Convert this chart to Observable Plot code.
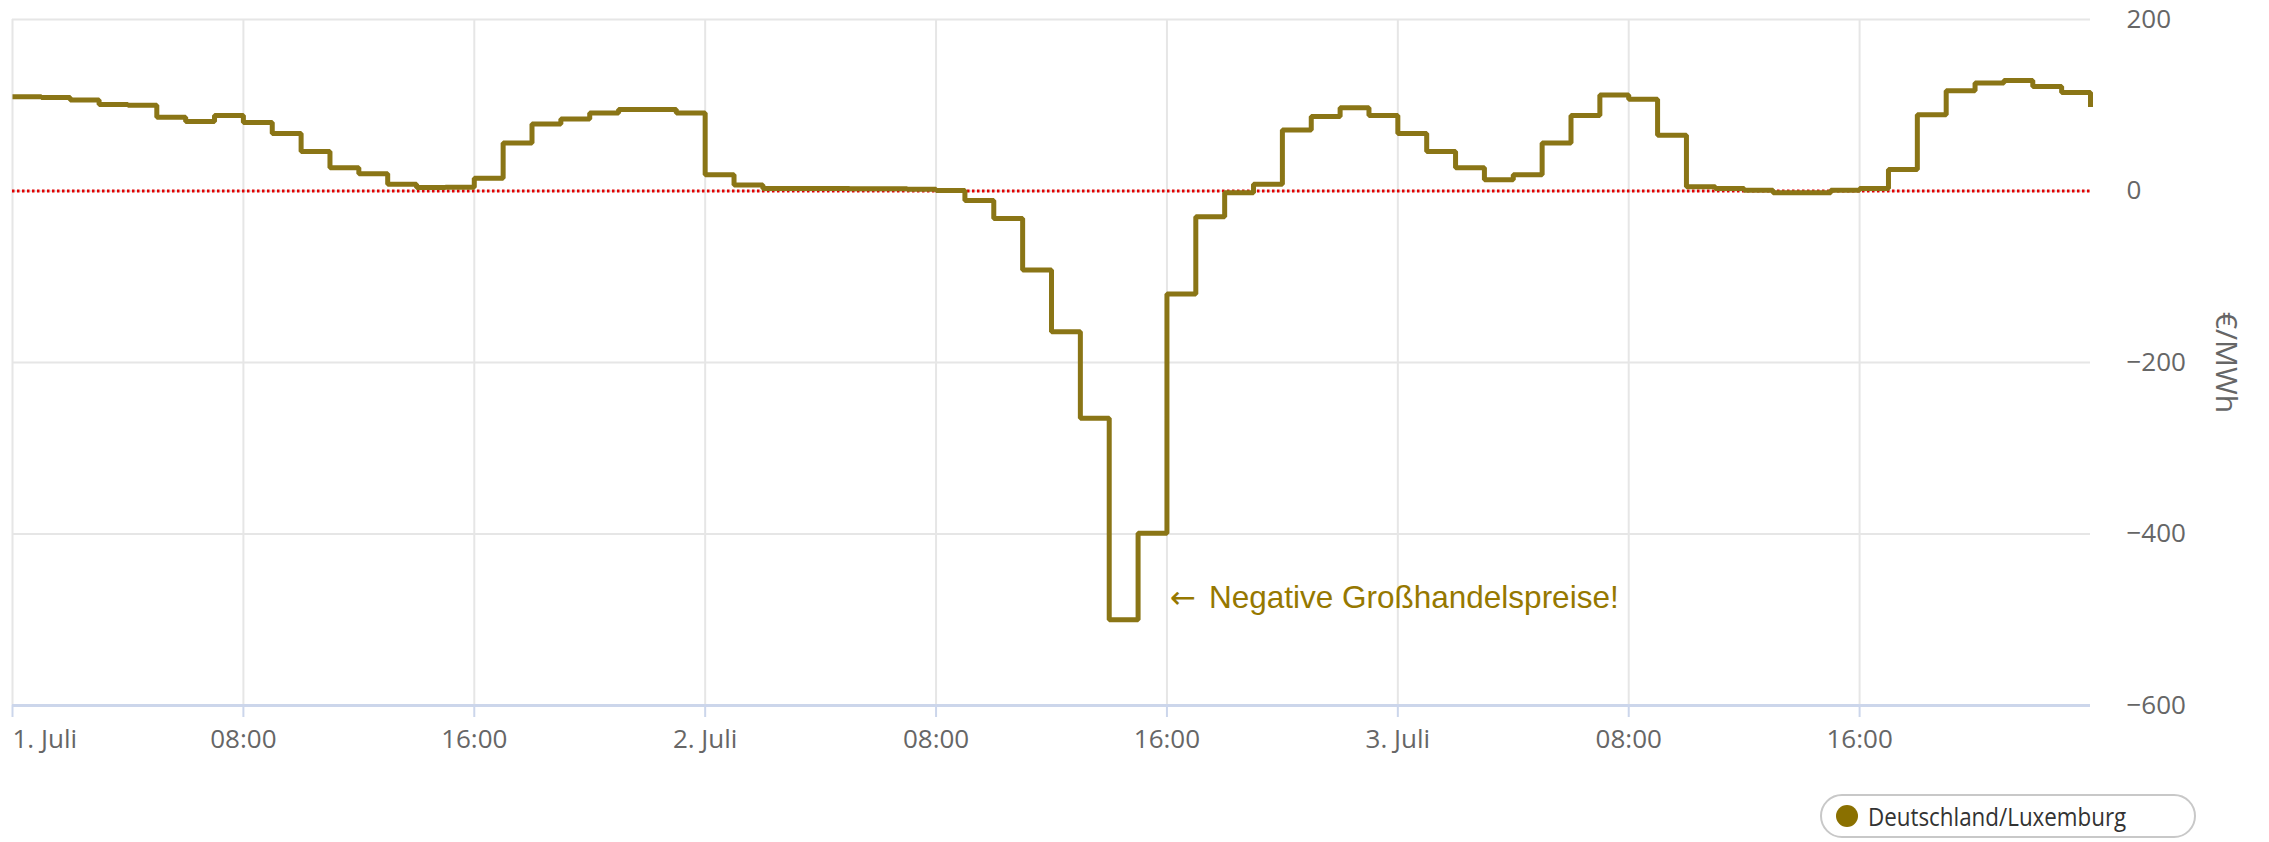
<!DOCTYPE html>
<html>
<head>
<meta charset="utf-8">
<script src="https://cdn.jsdelivr.net/npm/d3@7"></script>
<script src="https://cdn.jsdelivr.net/npm/@observablehq/plot@0.6"></script>
<style>
  html, body { margin: 0; padding: 0; background: #fff; }
  #wrap { position: relative; width: 2269px; height: 842px; overflow: hidden; }
  #legend {
    position: absolute; left: 1820px; top: 794px; width: 376px; height: 44px;
    border: 2px solid #c8c8c8; border-radius: 24px; box-sizing: border-box;
    display: flex; align-items: center; font-family: "Open Sans", sans-serif;
    font-size: 26px; color: #333;
  }
  #legend .dot { width: 22px; height: 22px; border-radius: 50%; background: #8a7000; margin-left: 14px; margin-right: 10px; flex: none; }
  #legend .lbl { display: inline-block; transform: scaleX(0.86); transform-origin: left center; white-space: nowrap; }
</style>
</head>
<body>
<div id="wrap"><div id="chart"></div>
<div id="legend"><span class="dot"></span><span class="lbl">Deutschland/Luxemburg</span></div>
</div>
<script>
// Hourly day-ahead prices, Deutschland/Luxemburg, 1.–3. Juli (€/MWh); last entry = end of period
const startTime = Date.UTC(2023, 6, 1, 0);
const prices = [
  110, 109, 106, 101, 100, 86, 81, 88,
  80, 67, 46, 27, 20, 8, 4, 4.5,
  15, 56, 78, 84, 91, 95, 95, 91,
  19, 7, 3, 3, 2.8, 2.5, 2.5, 2,
  0.5, -11, -32, -92, -164, -265, -500, -399,
  -120, -30, -2, 8, 71, 87, 97, 88,
  67, 46, 27, 13, 19, 56, 88, 112,
  107, 65, 5, 3, 1, -2, -2, 1,
  3, 25, 89, 117, 126, 129, 122, 115,
  98
];
const xTickHours = [0, 8, 16, 24, 32, 40, 48, 56, 64];
const xTickLabels = ["1. Juli", "08:00", "16:00", "2. Juli", "08:00", "16:00", "3. Juli", "08:00", "16:00"];
const yTicks = [200, 0, -200, -400, -600];
const yUnit = "€/MWh";
const seriesName = "Deutschland/Luxemburg";
const annotationArrow = "←";
const annotationText = "Negative Großhandelspreise!";
const annotationHour = 40;
const annotationValue = -475;

const hour = h => new Date(startTime + h * 3600e3);
const data = prices.map((v, i) => ({time: hour(i), price: v}));
const xTicks = xTickHours.map(hour);
const labelOf = new Map(xTicks.map((d, i) => [+d, xTickLabels[i]]));

const lineColor = "#8a7516";
const annColor = "#967800";
const font = "Open Sans, sans-serif";

const chart = Plot.plot({
  width: 2269,
  height: 790,
  marginLeft: 12,
  marginRight: 179,
  marginTop: 19,
  marginBottom: 85,
  style: {fontFamily: font, background: "#fff", overflow: "visible"},
  x: {type: "utc", domain: [hour(0), hour(prices.length - 1)]},
  y: {domain: [-600, 200]},
  marks: [
    Plot.gridY(yTicks.filter(d => d > -600), {stroke: "#e6e6e6", strokeOpacity: 1, strokeWidth: 2}),
    Plot.gridX(xTicks, {stroke: "#e6e6e6", strokeOpacity: 1, strokeWidth: 2}),
    Plot.ruleY([-600], {stroke: "#ccd6eb", strokeWidth: 3}),
    Plot.axisX(xTicks.slice(0, 1), {
      tickSize: 12, tickPadding: 12, stroke: "#ccd6eb", strokeWidth: 2,
      tickFormat: d => labelOf.get(+d), textAnchor: "start", dx: 0,
      fontSize: 26, fill: "#666", fontFamily: font
    }),
    Plot.axisX(xTicks.slice(1), {
      tickSize: 12, tickPadding: 12, stroke: "#ccd6eb", strokeWidth: 2,
      tickFormat: d => labelOf.get(+d),
      fontSize: 26, fill: "#666", fontFamily: font
    }),
    Plot.axisY(yTicks, {
      anchor: "right", tickSize: 0, tickPadding: 36, textAnchor: "start",
      tickFormat: d => String(d).replace("-", "−"),
      fontSize: 26, fill: "#666", fontFamily: font, label: null
    }),
    Plot.text([yUnit], {
      frameAnchor: "right", y: () => -200, dx: 135, rotate: 90, textAnchor: "middle",
      fontSize: 30, fill: "#666", fontFamily: font
    }),
    Plot.ruleY([0], {stroke: "#e00000", strokeWidth: 3, strokeDasharray: "2.5,2.5"}),
    Plot.line(data, {x: "time", y: "price", curve: "step-after", stroke: lineColor, strokeWidth: 5, strokeLinejoin: "miter", strokeLinecap: "butt"}),
    Plot.text([annotationArrow], {
      x: () => hour(annotationHour), y: () => annotationValue, textAnchor: "start", dx: 3,
      fontSize: 31, fill: annColor, fontFamily: "DejaVu Sans, sans-serif"
    }),
    Plot.text([annotationText], {
      x: () => hour(annotationHour), y: () => annotationValue, textAnchor: "start", dx: 42,
      fontSize: 31.5, fill: annColor, fontFamily: "Liberation Sans, Arial, sans-serif"
    })
  ]
});
document.getElementById("chart").appendChild(chart);
</script>
</body>
</html>
